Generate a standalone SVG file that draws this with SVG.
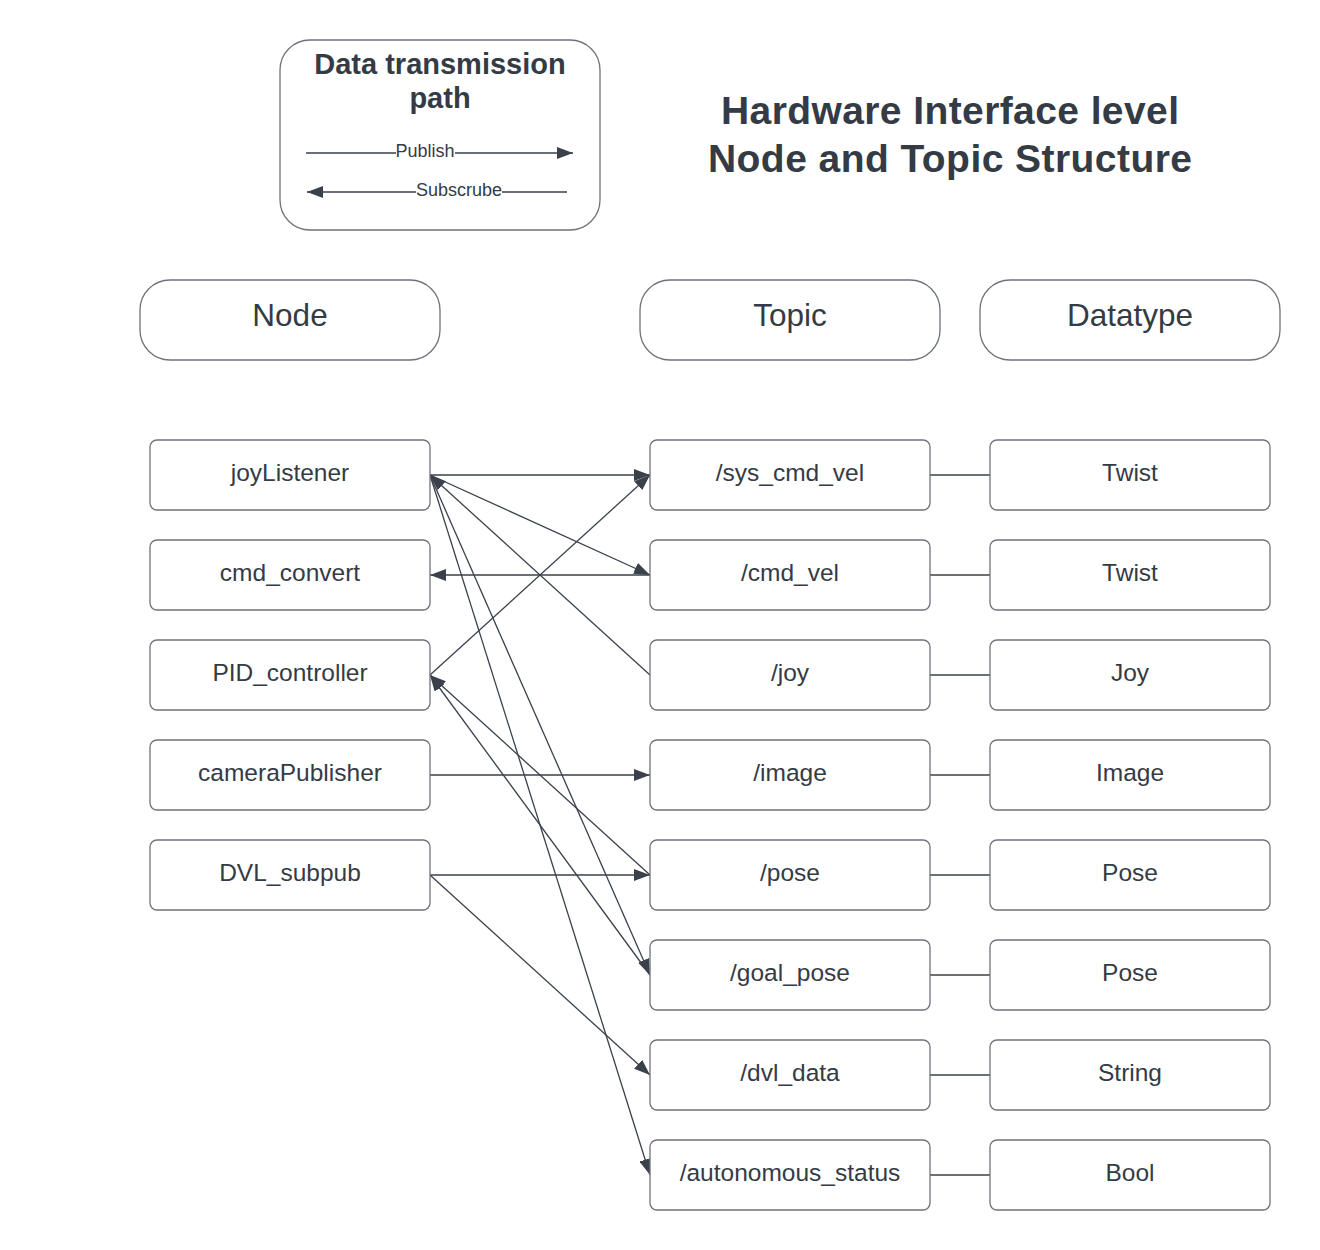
<svg xmlns="http://www.w3.org/2000/svg" width="1320" height="1250" viewBox="0 0 1320 1250">
<style>
text{font-family:"Liberation Sans",Arial,sans-serif;fill:#343b45;text-anchor:middle}
.box{fill:#fff;stroke:#6e737b;stroke-width:1.3}
.lbl{font-size:24.5px}
.hdr{font-size:31.5px}
.ttl{font-size:39px;font-weight:bold}
.lgt{font-size:29px;font-weight:bold}
.lgl{font-size:18px}
.edge{stroke:#3a414b;stroke-width:1.3;fill:none}
</style>
<defs>
<marker id="arr" markerUnits="userSpaceOnUse" markerWidth="17" markerHeight="12" refX="16" refY="6" orient="auto" viewBox="0 0 17 12">
<path d="M0,0 L16,6 L0,12 z" fill="#3a414b"/>
</marker>
</defs>
<rect width="1320" height="1250" fill="#fff"/>

<g id="legend">
<rect class="box" x="280" y="40" width="320" height="190" rx="30"/>
<text class="lgt" x="440" y="74">Data transmission</text>
<text class="lgt" x="440" y="108">path</text>
<line class="edge" x1="306" y1="153" x2="573" y2="153" marker-end="url(#arr)"/>
<rect x="396" y="143" width="59" height="18" fill="#fff"/>
<text class="lgl" x="425" y="157">Publish</text>
<line class="edge" x1="567" y1="192" x2="307" y2="192" marker-end="url(#arr)"/>
<rect x="416" y="182" width="86" height="18" fill="#fff"/>
<text class="lgl" x="459" y="196">Subscrube</text>
</g>

<g id="title">
<text class="ttl" x="950" y="124" textLength="458">Hardware Interface level</text>
<text class="ttl" x="950" y="172" textLength="484">Node and Topic Structure</text>
</g>

<g id="hdr-node"><rect class="box" x="140" y="280" width="300" height="80" rx="30"/><text class="hdr" x="290" y="326">Node</text></g>
<g id="hdr-topic"><rect class="box" x="640" y="280" width="300" height="80" rx="30"/><text class="hdr" x="790" y="326">Topic</text></g>
<g id="hdr-datatype"><rect class="box" x="980" y="280" width="300" height="80" rx="30"/><text class="hdr" x="1130" y="326">Datatype</text></g>

<g id="connectors">
<line class="edge" x1="430" y1="475" x2="650" y2="475" marker-end="url(#arr)"/>
<line class="edge" x1="430" y1="475" x2="650" y2="575" marker-end="url(#arr)"/>
<line class="edge" x1="650" y1="675" x2="430" y2="475" marker-end="url(#arr)"/>
<line class="edge" x1="650" y1="575" x2="430" y2="575" marker-end="url(#arr)"/>
<line class="edge" x1="430" y1="675" x2="650" y2="475" marker-end="url(#arr)"/>
<line class="edge" x1="430" y1="775" x2="650" y2="775" marker-end="url(#arr)"/>
<line class="edge" x1="650" y1="875" x2="430" y2="675" marker-end="url(#arr)"/>
<line class="edge" x1="650" y1="975" x2="430" y2="675" marker-end="url(#arr)"/>
<line class="edge" x1="430" y1="475" x2="650" y2="975" marker-end="url(#arr)"/>
<line class="edge" x1="430" y1="875" x2="650" y2="875" marker-end="url(#arr)"/>
<line class="edge" x1="430" y1="875" x2="650" y2="1075" marker-end="url(#arr)"/>
<line class="edge" x1="430" y1="475" x2="650" y2="1175" marker-end="url(#arr)"/>
<line class="edge" x1="930" y1="475" x2="990" y2="475"/>
<line class="edge" x1="930" y1="575" x2="990" y2="575"/>
<line class="edge" x1="930" y1="675" x2="990" y2="675"/>
<line class="edge" x1="930" y1="775" x2="990" y2="775"/>
<line class="edge" x1="930" y1="875" x2="990" y2="875"/>
<line class="edge" x1="930" y1="975" x2="990" y2="975"/>
<line class="edge" x1="930" y1="1075" x2="990" y2="1075"/>
<line class="edge" x1="930" y1="1175" x2="990" y2="1175"/>
</g>

<g id="n-joyListener"><rect class="box" x="150" y="440" width="280" height="70" rx="7"/><text class="lbl" x="290" y="481">joyListener</text></g>
<g id="n-cmd_convert"><rect class="box" x="150" y="540" width="280" height="70" rx="7"/><text class="lbl" x="290" y="581">cmd_convert</text></g>
<g id="n-PID_controller"><rect class="box" x="150" y="640" width="280" height="70" rx="7"/><text class="lbl" x="290" y="681">PID_controller</text></g>
<g id="n-cameraPublisher"><rect class="box" x="150" y="740" width="280" height="70" rx="7"/><text class="lbl" x="290" y="781">cameraPublisher</text></g>
<g id="n-DVL_subpub"><rect class="box" x="150" y="840" width="280" height="70" rx="7"/><text class="lbl" x="290" y="881">DVL_subpub</text></g>

<g id="t-sys_cmd_vel"><rect class="box" x="650" y="440" width="280" height="70" rx="7"/><text class="lbl" x="790" y="481">/sys_cmd_vel</text></g>
<g id="t-cmd_vel"><rect class="box" x="650" y="540" width="280" height="70" rx="7"/><text class="lbl" x="790" y="581">/cmd_vel</text></g>
<g id="t-joy"><rect class="box" x="650" y="640" width="280" height="70" rx="7"/><text class="lbl" x="790" y="681">/joy</text></g>
<g id="t-image"><rect class="box" x="650" y="740" width="280" height="70" rx="7"/><text class="lbl" x="790" y="781">/image</text></g>
<g id="t-pose"><rect class="box" x="650" y="840" width="280" height="70" rx="7"/><text class="lbl" x="790" y="881">/pose</text></g>
<g id="t-goal_pose"><rect class="box" x="650" y="940" width="280" height="70" rx="7"/><text class="lbl" x="790" y="981">/goal_pose</text></g>
<g id="t-dvl_data"><rect class="box" x="650" y="1040" width="280" height="70" rx="7"/><text class="lbl" x="790" y="1081">/dvl_data</text></g>
<g id="t-autonomous_status"><rect class="box" x="650" y="1140" width="280" height="70" rx="7"/><text class="lbl" x="790" y="1181">/autonomous_status</text></g>

<g id="d-1"><rect class="box" x="990" y="440" width="280" height="70" rx="7"/><text class="lbl" x="1130" y="481">Twist</text></g>
<g id="d-2"><rect class="box" x="990" y="540" width="280" height="70" rx="7"/><text class="lbl" x="1130" y="581">Twist</text></g>
<g id="d-3"><rect class="box" x="990" y="640" width="280" height="70" rx="7"/><text class="lbl" x="1130" y="681">Joy</text></g>
<g id="d-4"><rect class="box" x="990" y="740" width="280" height="70" rx="7"/><text class="lbl" x="1130" y="781">Image</text></g>
<g id="d-5"><rect class="box" x="990" y="840" width="280" height="70" rx="7"/><text class="lbl" x="1130" y="881">Pose</text></g>
<g id="d-6"><rect class="box" x="990" y="940" width="280" height="70" rx="7"/><text class="lbl" x="1130" y="981">Pose</text></g>
<g id="d-7"><rect class="box" x="990" y="1040" width="280" height="70" rx="7"/><text class="lbl" x="1130" y="1081">String</text></g>
<g id="d-8"><rect class="box" x="990" y="1140" width="280" height="70" rx="7"/><text class="lbl" x="1130" y="1181">Bool</text></g>
</svg>
